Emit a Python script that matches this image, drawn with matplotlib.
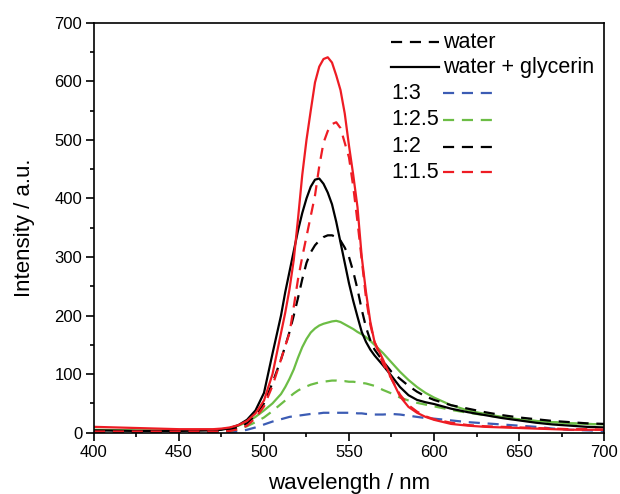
import matplotlib
matplotlib.use('Agg')
import matplotlib.pyplot as plt
from matplotlib.ticker import MultipleLocator

plt.rcParams['font.family'] = ['Liberation Sans', 'DejaVu Sans']

# wavelength grid (nm)
wl = [400, 425, 450, 470, 475, 480, 485, 490, 495, 500, 505, 510, 512.5, 515,
      517.5, 520, 522.5, 525, 527.5, 530, 532.5, 535, 537.5, 540, 542.5, 545,
      547.5, 550, 552.5, 555, 557.5, 560, 562.5, 565, 570, 575, 580, 585, 590,
      595, 600, 610, 620, 630, 640, 650, 660, 670, 680, 690, 700]

# water (dashed)
water_1_3 = [1, 1, 1, 1, 1, 1, 2, 5, 9, 14, 19, 23, 25, 27, 28, 29, 30, 31, 32,
             33, 33, 34, 34, 34, 34, 34, 34, 34, 34, 33, 33, 32, 32, 31, 31, 32,
             31, 29, 27, 25, 24, 21, 18, 16, 14, 12, 10, 7, 5, 4, 3]
water_1_25 = [2, 2, 2, 2, 2, 3, 6, 11, 18, 26, 37, 49, 55, 61, 67, 72, 76, 79,
              82, 84, 86, 87, 88, 89, 89, 88, 88, 87, 87, 86, 85, 84, 82, 80,
              73, 67, 60, 55, 51, 48, 45, 39, 34, 30, 26, 23, 20, 18, 16, 15, 14]
water_1_2 = [2, 2, 2, 2, 3, 5, 9, 16, 30, 50, 85, 125, 148, 172, 200, 230, 262,
             290, 308, 320, 328, 334, 337, 337, 334, 328, 316, 300, 275, 245,
             210, 180, 158, 142, 122, 104, 92, 80, 70, 62, 56, 47, 41, 35, 30,
             26, 23, 20, 18, 16, 15]
water_1_15 = [2, 2, 2, 2, 2, 3, 6, 12, 25, 45, 80, 125, 148, 170, 215, 262,
              300, 335, 370, 405, 455, 495, 515, 527, 530, 520, 495, 470, 420,
              360, 295, 230, 185, 155, 118, 92, 65, 47, 36, 28, 23, 17, 13, 11,
              10, 9, 8, 7, 6, 6, 5]

# water + glycerin (solid)
gly_1_25 = [5, 4, 4, 5, 6, 8, 12, 18, 27, 38, 50, 66, 78, 92, 108, 128, 146,
            160, 171, 178, 183, 186, 188, 190, 191, 189, 185, 181, 177, 172,
            168, 163, 157, 150, 136, 120, 104, 90, 78, 68, 60, 47, 38, 32, 27,
            22, 20, 18, 16, 15, 14]
gly_1_2 = [4, 3, 3, 4, 5, 8, 13, 22, 38, 68, 135, 200, 240, 275, 310, 345, 375,
           400, 420, 432, 434, 425, 410, 390, 360, 325, 290, 255, 225, 198, 172,
           155, 142, 132, 115, 97, 78, 64, 56, 52, 49, 41, 35, 30, 25, 21, 17,
           14, 12, 10, 9]
gly_1_15 = [10, 8, 6, 6, 7, 9, 13, 20, 33, 55, 100, 170, 205, 245, 295, 365,
            440, 500, 550, 598, 625, 638, 641, 632, 610, 585, 545, 490, 440,
            385, 300, 240, 190, 155, 125, 92, 62, 44, 34, 27, 22, 15, 12, 10,
            9, 8, 7, 6, 5, 5, 5]

blue = '#3c5cb4'
green = '#6cbd45'
red = '#ee1c24'
dash = (5, 3.5)

fig = plt.figure(figsize=(6.2, 4.94), dpi=100)
ax = fig.add_axes([0.1516, 0.1241, 0.8226, 0.8299])

lw = 1.6
ax.plot(wl, water_1_3, color=blue, lw=lw, dashes=dash)
ax.plot(wl, water_1_25, color=green, lw=lw, dashes=dash)
ax.plot(wl, gly_1_25, color=green, lw=lw)
ax.plot(wl, water_1_2, color='black', lw=lw, dashes=dash)
ax.plot(wl, gly_1_2, color='black', lw=lw)
ax.plot(wl, water_1_15, color=red, lw=lw, dashes=dash)
ax.plot(wl, gly_1_15, color=red, lw=lw)

ax.set_xlim(400, 700)
ax.set_ylim(0, 700)
ax.xaxis.set_major_locator(MultipleLocator(50))
ax.xaxis.set_minor_locator(MultipleLocator(25))
ax.yaxis.set_major_locator(MultipleLocator(100))
ax.yaxis.set_minor_locator(MultipleLocator(50))
ax.tick_params(which='both', direction='out', top=False, right=False,
               width=1.2, labelsize=12)
ax.tick_params(which='major', length=5.5, pad=3)
ax.tick_params(which='minor', length=3)
for s in ax.spines.values():
    s.set_linewidth(1.2)

ax.set_xlabel('wavelength / nm', fontsize=16, labelpad=10)
ax.set_ylabel('Intensity / a.u.', fontsize=16, labelpad=14)

# hand-made legend
tr = ax.transAxes
ax.plot([0.583, 0.677], [0.952, 0.952], color='black', lw=lw, dashes=dash,
        transform=tr)
ax.text(0.685, 0.952, 'water', transform=tr, va='center', fontsize=15.5)
ax.plot([0.583, 0.677], [0.891, 0.891], color='black', lw=lw, transform=tr)
ax.text(0.685, 0.891, 'water + glycerin', transform=tr, va='center',
        fontsize=15.5)
ratios = ['1:3', '1:2.5', '1:2', '1:1.5']
rcolors = [blue, green, 'black', red]
rows = [0.828, 0.763, 0.698, 0.635]
for lab, c, y in zip(ratios, rcolors, rows):
    ax.text(0.583, y, lab, transform=tr, va='center', fontsize=15.5)
    ax.plot([0.684, 0.781], [y, y], color=c, lw=lw, dashes=dash, transform=tr)

fig.savefig('out.png', dpi=100)
